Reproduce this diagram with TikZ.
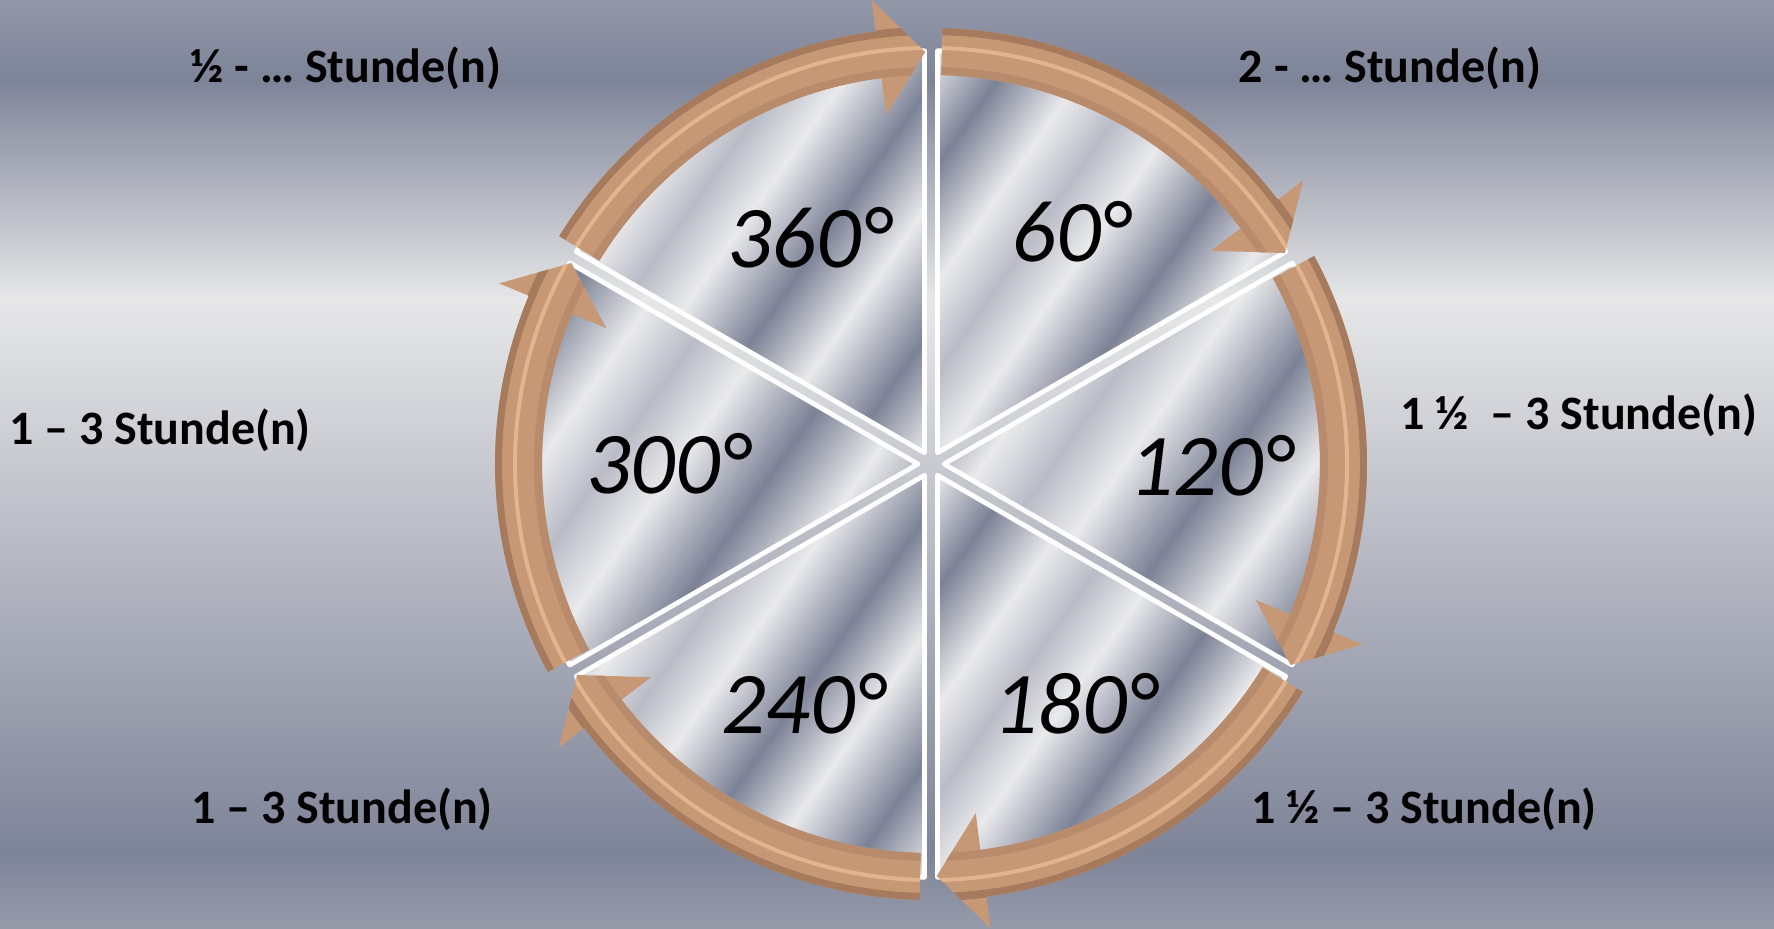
\documentclass[tikz,border=0pt]{standalone}
\usepackage{fontspec}
\setmainfont{Carlito}
\usetikzlibrary{calc}
\definecolor{bgtop}{RGB}{146,152,168}
\definecolor{bgdark}{RGB}{126,132,152}
\definecolor{bglight}{RGB}{231,231,232}
\definecolor{bgbot}{RGB}{150,155,170}
\definecolor{mdark}{RGB}{124,130,150}
\definecolor{mlight}{RGB}{234,234,236}
\definecolor{mmid}{RGB}{185,188,198}
\definecolor{cu}{RGB}{198,152,118}
\definecolor{cudark}{RGB}{166,122,93}
\definecolor{culight}{RGB}{226,181,143}
\definecolor{cuinner}{RGB}{184,139,108}
\pgfdeclarehorizontalshading{metal}{100bp}{color(0bp)=(mlight); color(15bp)=(mlight); color(24bp)=(mdark); color(33bp)=(mlight); color(40bp)=(mmid); color(47bp)=(mlight); color(57bp)=(mdark); color(66bp)=(mlight); color(76bp)=(mdark); color(85bp)=(mlight); color(100bp)=(mlight)}
\begin{document}
\begin{tikzpicture}[x=0.5pt,y=0.5pt,
  lbl/.style={font=\bfseries\fontsize{24}{28}\selectfont, text=black, inner sep=0pt},
  deg/.style={font=\itshape\fontsize{44}{50}\selectfont, text=black, inner sep=0pt},
  wedge/.style={shading=metal, shading angle=-35, draw=white, line width=2.4pt, line join=round}]
\useasboundingbox (0,0) rectangle (1774,928);
% background
\shade[top color=bgtop, bottom color=bgdark] (0,928) rectangle (1774,847);
\shade[top color=bgdark, bottom color=bglight] (0,848) rectangle (1774,627);
\shade[top color=bglight, bottom color=bgdark] (0,628) rectangle (1774,75);
\shade[top color=bgdark, bottom color=bgbot] (0,76) rectangle (1774,0);
\begin{scope}[shift={(931,464)}]
  % wedges
  \foreach \b in {120,60,0,-60,-120,180} {
    \shadedraw[wedge] (\b:13) -- ++(\b-30:402) arc[start angle=\b-30, end angle=\b+30, radius=402] -- cycle;
  }
  % arrows
  \foreach \t/\p in {148.5/90.8, 88.5/30.8, 28.5/-29.2, -31.5/-89.2, -91.5/-149.2, -151.5/-209.2} {
    \pgfmathsetmacro{\h}{\p+6.5}
    \begin{scope}
      \clip (\t:436) arc[start angle=\t, end angle=\h, radius=436] -- (\h:468) -- (\p:412) -- (\h:352) -- (\h:389) arc[start angle=\h, end angle=\t, radius=389] -- cycle;
      \fill[cu] (0,0) circle (480);
      \draw[cudark, line width=4pt] (0,0) circle (433);
      \draw[cuinner, line width=4pt] (0,0) circle (393);
      \draw[culight, line width=2pt] (0,0) circle (416);
    \end{scope}
  }
\end{scope}
% degree labels
\node[deg] (d360) at (809,690) {360°};
\node[deg] (d60) at (1071,696) {60°};
\node[deg] (d120) at (1211,462) {120°};
\node[deg] (d180) at (1075,224) {180°};
\node[deg] (d240) at (803,224) {240°};
\node[deg] (d300) at (668,464) {300°};
% time labels
\node[lbl] (thalf) at (346,860) {½ - … Stunde(n)};
\node[lbl] (ttwo) at (1390,860) {2 - … Stunde(n)};
\node[lbl] (tleft) at (160,498) {1 – 3 Stunde(n)};
\node[lbl] (trmid) at (1579,513) {1 ½\ \ – 3 Stunde(n)};
\node[lbl] (tbl) at (342,119) {1 – 3 Stunde(n)};
\node[lbl] (tbr) at (1424,119) {1 ½ – 3 Stunde(n)};
\end{tikzpicture}
\end{document}
